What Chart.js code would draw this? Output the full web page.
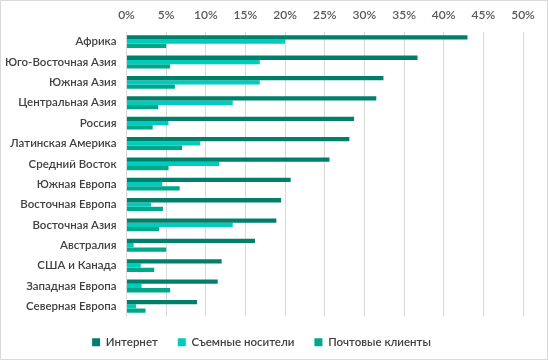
<!DOCTYPE html>
<html>
<head>
<meta charset="utf-8">
<script src="https://cdn.jsdelivr.net/npm/chart.js@4.4.1/dist/chart.umd.min.js"></script>
<style>
html,body{margin:0;padding:0;background:#fff;}
#wrap{position:relative;width:548px;height:360px;}
canvas{display:block;}
</style>
</head>
<body>
<div id="wrap"><canvas id="c" width="548" height="360"></canvas></div>
<script>
const categories = ["Африка","Юго-Восточная Азия","Южная Азия","Центральная Азия","Россия","Латинская Америка","Средний Восток","Южная Европа","Восточная Европа","Восточная Азия","Австралия","США и Канада","Западная Европа","Северная Европа"];
const internet = [43.0,36.7,32.4,31.5,28.7,28.1,25.6,20.7,19.5,18.9,16.2,12.0,11.5,8.9];
const removable = [20.0,16.8,16.8,13.4,5.3,9.3,11.7,4.5,3.1,13.4,0.9,1.8,1.9,1.2];
const mail = [5.0,5.5,6.1,4.0,3.3,7.0,5.3,6.7,4.6,4.1,5.0,3.5,5.5,2.4];
const seriesNames = ["Интернет","Съемные носители","Почтовые клиенты"];
const tickLabelsPct = [0,5,10,15,20,25,30,35,40,45,50];

const FONT = "Lato, 'Noto Sans', sans-serif";
const borderPlugin = {
  id:'frame',
  afterDraw(chart){
    const ctx = chart.ctx;
    ctx.save();
    ctx.strokeStyle = '#d9d9d9';
    ctx.lineWidth = 1;
    ctx.strokeRect(0.5,0.5,chart.width-1,chart.height-1);
    ctx.restore();
  }
};

new Chart(document.getElementById('c'), {
  type:'bar',
  data:{
    labels:categories,
    datasets:[
      {label:seriesNames[0], data:internet, backgroundColor:'#00806A'},
      {label:seriesNames[1], data:removable, backgroundColor:'#00CCBE'},
      {label:seriesNames[2], data:mail, backgroundColor:'#00A88A'}
    ]
  },
  options:{
    indexAxis:'y',
    responsive:false,
    animation:false,
    devicePixelRatio:1,
    layout:{padding:{left:0,right:25,top:4,bottom:2}},
    datasets:{bar:{categoryPercentage:0.63,barPercentage:1.0}},
    scales:{
      x:{
        position:'top',
        min:0,max:50,
        afterBuildTicks(scale){ scale.ticks = tickLabelsPct.map(v=>({value:v})); },
        afterFit(scale){ scale.height = 27.5; },
        grid:{color:'#d9d9d9',drawTicks:false,lineWidth:1},
        border:{display:false},
        ticks:{color:'#595959',font:{family:FONT,size:12,weight:'600'},padding:9,callback:v=>v+'%'}
      },
      y:{
        afterFit(scale){ scale.width = 126.5; },
        grid:{display:false,drawTicks:false},
        border:{display:false},
        ticks:{color:'#404040',font:{family:FONT,size:11.5,weight:'600'},padding:10,autoSkip:false}
      }
    },
    plugins:{
      legend:{
        position:'bottom',
        labels:{color:'#404040',font:{family:FONT,size:11.5,weight:'600'},boxWidth:8,boxHeight:8,padding:20}
      },
      tooltip:{enabled:false}
    }
  },
  plugins:[borderPlugin]
});
</script>
</body>
</html>
